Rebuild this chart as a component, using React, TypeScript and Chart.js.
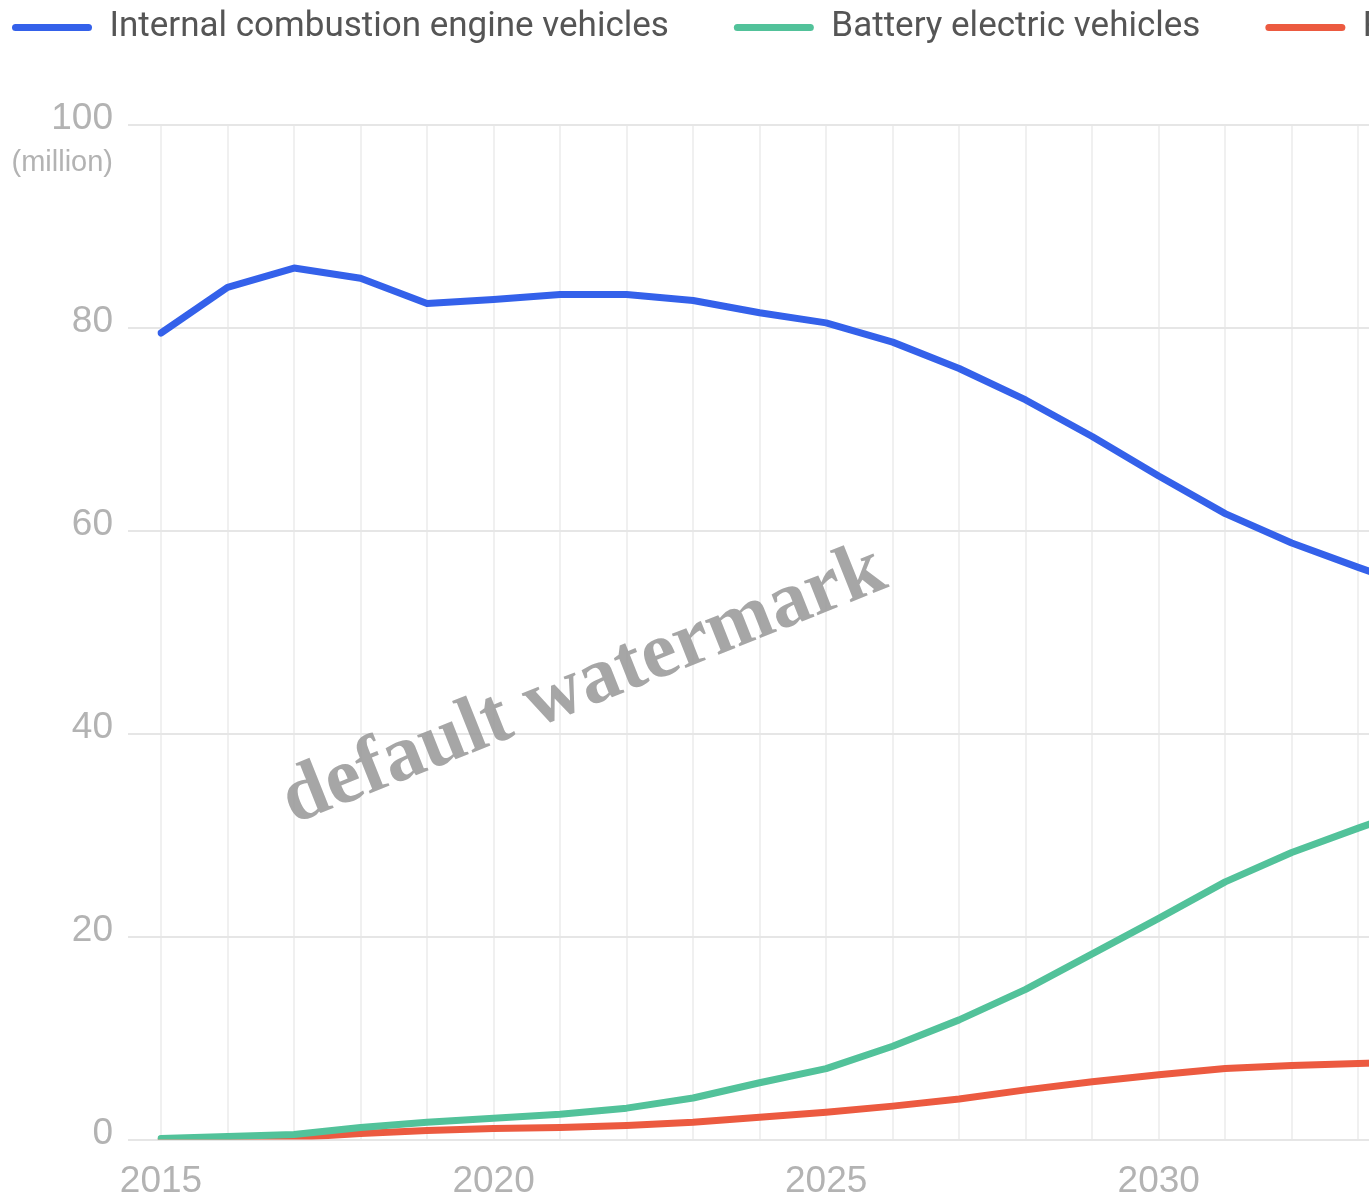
import { useEffect, useRef } from 'react';
import { Chart, registerables } from 'chart.js';

Chart.register(...registerables);

// ---- data ----
const years = [
  '2015', '2016', '2017', '2018', '2019', '2020', '2021', '2022', '2023', '2024',
  '2025', '2026', '2027', '2028', '2029', '2030', '2031', '2032', '2033', '2034',
  '2035', '2036', '2037', '2038', '2039', '2040',
];
const xLabelYears = ['2015', '2020', '2025', '2030', '2035', '2040'];
const iceSales = [79.5, 84.0, 85.9, 84.9, 82.4, 82.8, 83.3, 83.3, 82.7, 81.5, 80.5, 78.6, 76.0, 72.9, 69.3, 65.4, 61.7, 58.8, 56.4, 54.1];
const bevSales = [0.1, 0.3, 0.5, 1.2, 1.7, 2.1, 2.5, 3.1, 4.1, 5.6, 7.0, 9.2, 11.8, 14.8, 18.3, 21.8, 25.4, 28.3, 30.7, 33.0];
const phevSales = [0.0, 0.05, 0.2, 0.6, 0.9, 1.1, 1.2, 1.4, 1.7, 2.2, 2.7, 3.3, 4.0, 4.9, 5.7, 6.4, 7.0, 7.3, 7.5, 7.7];
const seriesNames = ['Internal combustion engine vehicles', 'Battery electric vehicles', 'Plug-in hybrid vehicles'];
const yMin = 0;
const yMax = 100;
const yStep = 20;
const yUnitLabel = '(million)';
const watermarkText = 'default watermark';

// ---- layout / style ----
const CANVAS_LEFT = -53;
const CANVAS_TOP = -55;
const CANVAS_W = 1938;
const CANVAS_H = 1279;
const LEGEND_H = 180;
const Y_AXIS_W = 214;
const TICK_FONT = 'Liberation Sans, Arial, sans-serif';
const TICK_COLOR = '#b3b3b3';
const COLORS = ['#3461ea', '#52c29a', '#ec5a40'];

export default function App() {
  const ref = useRef<HTMLCanvasElement | null>(null);

  useEffect(() => {
    const canvas = ref.current;
    if (!canvas) return;

    const extras = {
      id: 'extras',
      beforeLayout(chart: any) {
        const lg = chart.legend;
        if (lg && !lg._patchedFit) {
          const orig = lg.fit;
          lg.fit = function () {
            orig.call(this);
            this.height = LEGEND_H;
          };
          lg._patchedFit = true;
        }
      },
      afterDraw(chart: any) {
        const ctx = chart.ctx as CanvasRenderingContext2D;
        const ys = chart.scales.y;
        const area = chart.chartArea;
        ctx.save();
        ctx.font = `29px ${TICK_FONT}`;
        ctx.fillStyle = TICK_COLOR;
        ctx.textAlign = 'right';
        ctx.textBaseline = 'middle';
        ctx.fillText(yUnitLabel, area.left - 33 - 15, ys.getPixelForValue(yMax) + 38);
        ctx.restore();

        ctx.save();
        ctx.translate(584 - CANVAS_LEFT, 686 - CANVAS_TOP);
        ctx.rotate(-21.7 * Math.PI / 180);
        ctx.font = 'bold 80px "Liberation Serif", "Times New Roman", serif';
        ctx.fillStyle = 'rgba(150,150,150,0.85)';
        ctx.textAlign = 'center';
        ctx.textBaseline = 'middle';
        ctx.fillText(watermarkText, 0, 0);
        ctx.restore();
      },
    };

    const mk = (label: string, data: number[], color: string) => ({
      label,
      data,
      borderColor: color,
      backgroundColor: color,
      borderWidth: 7,
      pointRadius: 0,
      pointHoverRadius: 0,
      tension: 0,
      fill: false,
      borderCapStyle: 'round' as const,
      borderJoinStyle: 'round' as const,
      spanGaps: false,
    });

    const chart = new Chart(canvas, {
      type: 'line',
      data: {
        labels: years,
        datasets: [
          mk(seriesNames[0], iceSales, COLORS[0]),
          mk(seriesNames[1], bevSales, COLORS[1]),
          mk(seriesNames[2], phevSales, COLORS[2]),
        ],
      },
      options: {
        responsive: false,
        animation: false,
        devicePixelRatio: 1,
        layout: { padding: 0 },
        plugins: {
          tooltip: { enabled: false },
          legend: {
            display: true,
            position: 'top',
            align: 'start',
            labels: {
              boxWidth: 80,
              boxHeight: 7,
              useBorderRadius: true,
              borderRadius: 3.5,
              padding: 65,
              color: '#555555',
              font: { family: 'Roboto, sans-serif', size: 35 },
              generateLabels: (c: any) =>
                c.data.datasets.map((d: any, i: number) => ({
                  text: d.label,
                  fillStyle: d.borderColor,
                  strokeStyle: d.borderColor,
                  lineWidth: 0,
                  hidden: false,
                  datasetIndex: i,
                  fontColor: '#555555',
                  borderRadius: 3.5,
                })),
            },
          },
        },
        scales: {
          x: {
            type: 'category',
            offset: false,
            border: { display: false },
            grid: { color: '#f0f0f0', lineWidth: 2, drawTicks: false },
            ticks: {
              autoSkip: false,
              maxRotation: 0,
              padding: 20,
              color: TICK_COLOR,
              font: { family: TICK_FONT, size: 37 },
              callback: function (this: any, value: any) {
                const lab = this.getLabelForValue(value);
                return xLabelYears.includes(lab) ? lab : '';
              },
            },
          },
          y: {
            min: yMin,
            max: yMax,
            border: { display: false },
            grid: { color: '#e6e6e6', lineWidth: 2, drawTicks: true, tickLength: 33 },
            ticks: {
              stepSize: yStep,
              padding: 15,
              labelOffset: -6,
              color: TICK_COLOR,
              font: { family: TICK_FONT, size: 37 },
            },
            afterFit: (s: any) => {
              s.width = Y_AXIS_W;
            },
          },
        },
      },
      plugins: [extras],
    });

    return () => chart.destroy();
  }, []);

  return (
    <div style={{ position: 'fixed', left: 0, top: 0, width: '100vw', height: '100vh', overflow: 'hidden', background: '#ffffff' }}>
      <canvas
        ref={ref}
        width={CANVAS_W}
        height={CANVAS_H}
        style={{ position: 'absolute', left: CANVAS_LEFT, top: CANVAS_TOP, width: CANVAS_W, height: CANVAS_H, display: 'block' }}
      />
    </div>
  );
}
